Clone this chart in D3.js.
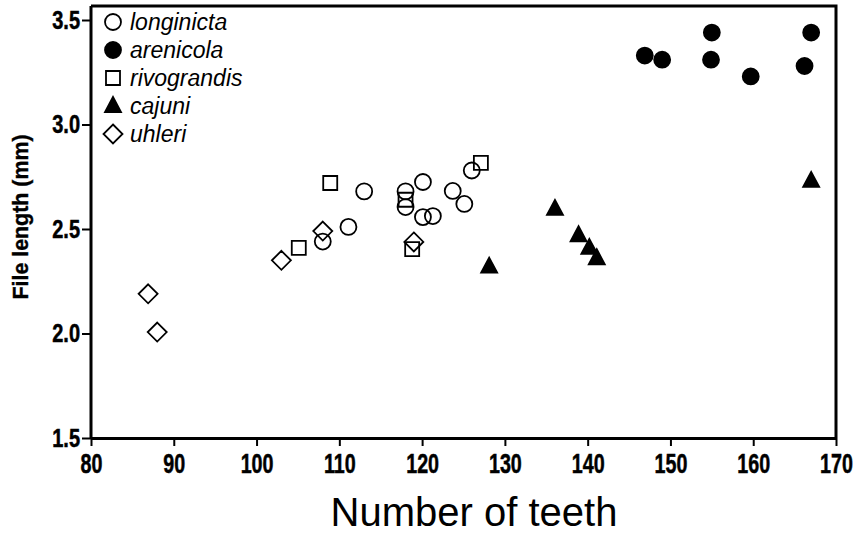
<!DOCTYPE html>
<html>
<head>
<meta charset="utf-8">
<script src="https://cdn.jsdelivr.net/npm/d3@7"></script>
<style>
  body { margin: 0; background: #fff; }
  svg { display: block; font-family: "Liberation Sans", Arial, Helvetica, sans-serif; }
</style>
</head>
<body>
<div id="chart"></div>
<script>
// values: [number of teeth, file length mm]
var longinicta = [[108, 2.44], [111.1, 2.51], [113, 2.68], [118, 2.68], [118, 2.605],
  [120.1, 2.725], [120.1, 2.557], [121.3, 2.562], [123.7, 2.682], [125.1, 2.62], [126, 2.78]];
var arenicola = [[146.9, 3.33], [149, 3.31], [155, 3.44], [154.9, 3.31], [159.7, 3.23],
  [166.2, 3.28], [167, 3.44]];
var rivograndis = [[105.1, 2.41], [108.9, 2.72], [118, 2.64], [118.8, 2.404], [127.1, 2.816]];
var cajuni = [[128.1, 2.32], [136.05, 2.596], [138.9, 2.47], [140.2, 2.41], [141.1, 2.36], [167, 2.73]];
var uhleri = [[86.9, 2.19], [88, 2.007], [103, 2.35], [108, 2.49], [119, 2.438]];

var speciesNames = ["longinicta", "arenicola", "rivograndis", "cajuni", "uhleri"];
var xTicks = [80, 90, 100, 110, 120, 130, 140, 150, 160, 170];
var yTicks = [1.5, 2.0, 2.5, 3.0, 3.5];

var width = 855, height = 533;

var series = [
  {name: "longinicta", pts: longinicta, shape: "circle", fill: "#fff"},
  {name: "arenicola", pts: arenicola, shape: "circle", fill: "#000"},
  {name: "rivograndis", pts: rivograndis, shape: "square", fill: "#fff"},
  {name: "cajuni", pts: cajuni, shape: "triangle", fill: "#000"},
  {name: "uhleri", pts: uhleri, shape: "diamond", fill: "#fff"}
];

var x = d3.scaleLinear().domain([80, 170]).range([91, 836]);
var y = d3.scaleLinear().domain([1.5, 3.5]).range([438, 20]);

var svg = d3.select("#chart").append("svg")
  .attr("width", width)
  .attr("height", height);

function shapePath(shape) {
  if (shape === "circle") return "M8,0A8,8 0 1,1 -8,0A8,8 0 1,1 8,0Z";
  if (shape === "square") return "M-7,-7H7V7H-7Z";
  if (shape === "diamond") return "M0,-9.5L9.5,0L0,9.5L-9.5,0Z";
  return "M0,-9L8,6H-8Z"; // triangle
}

// frame: top and right lines
svg.append("path")
  .attr("d", "M" + x(80) + ",6H" + x(170) + "V" + y(1.5))
  .attr("fill", "none")
  .attr("stroke", "#000")
  .attr("stroke-width", 3);

// axes
var xAxis = svg.append("g")
  .attr("transform", "translate(0," + y(1.5) + ")")
  .call(d3.axisBottom(x).tickValues(xTicks).tickSize(8).tickPadding(8).tickSizeOuter(0));
xAxis.select(".domain").attr("stroke-width", 3);
xAxis.selectAll(".tick line").attr("stroke-width", 2);
xAxis.selectAll(".tick text")
  .attr("font-family", "'Liberation Sans', Arial, sans-serif")
  .attr("font-size", 27)
  .attr("font-weight", "bold")
  .attr("stroke", "#000")
  .attr("stroke-width", 0.5)
  .attr("transform", "scale(0.73,1)");

var yAxis = svg.append("g")
  .attr("transform", "translate(" + x(80) + ",0)")
  .call(d3.axisLeft(y).tickValues(yTicks).tickFormat(d3.format(".1f")).tickSize(9).tickPadding(2).tickSizeOuter(0));
yAxis.select(".domain").attr("stroke-width", 3)
  .attr("d", "M0," + y(1.5) + "V6");
yAxis.selectAll(".tick line").attr("stroke-width", 2);
yAxis.selectAll(".tick text")
  .attr("font-family", "'Liberation Sans', Arial, sans-serif")
  .attr("font-size", 25)
  .attr("font-weight", "bold")
  .attr("stroke", "#000")
  .attr("stroke-width", 0.5)
  .attr("x", -11 / 0.8)
  .attr("transform", "scale(0.8,1)");

// axis titles
svg.append("text")
  .attr("transform", "translate(28,217) rotate(-90) scale(0.93,1)")
  .attr("text-anchor", "middle")
  .attr("font-size", 23)
  .attr("font-weight", "bold")
  .attr("stroke", "#000")
  .attr("stroke-width", 0.4)
  .text("File length (mm)");

svg.append("text")
  .attr("x", 474)
  .attr("y", 526)
  .attr("text-anchor", "middle")
  .attr("font-size", 40)
  .text("Number of teeth");

// points
series.forEach(function(s) {
  svg.append("g").selectAll("path")
    .data(s.pts)
    .enter().append("path")
    .attr("d", shapePath(s.shape))
    .attr("transform", function(d) { return "translate(" + x(d[0]) + "," + y(d[1]) + ")"; })
    .attr("fill", s.fill)
    .attr("fill-opacity", s.fill === "#fff" ? 0 : 1)
    .attr("stroke", "#000")
    .attr("stroke-width", 1.8);
});

// legend
var legend = svg.append("g").selectAll("g")
  .data(series)
  .enter().append("g")
  .attr("transform", function(d, i) { return "translate(113," + (22 + i * 28) + ")"; });
legend.append("path")
  .attr("d", function(d) { return shapePath(d.shape); })
  .attr("fill", function(d) { return d.fill; })
  .attr("stroke", "#000")
  .attr("stroke-width", 1.8);
legend.append("text")
  .attr("x", 17)
  .attr("y", 7.5)
  .attr("font-size", 23)
  .attr("font-style", "italic")
  .text(function(d, i) { return speciesNames[i]; });
</script>
</body>
</html>
